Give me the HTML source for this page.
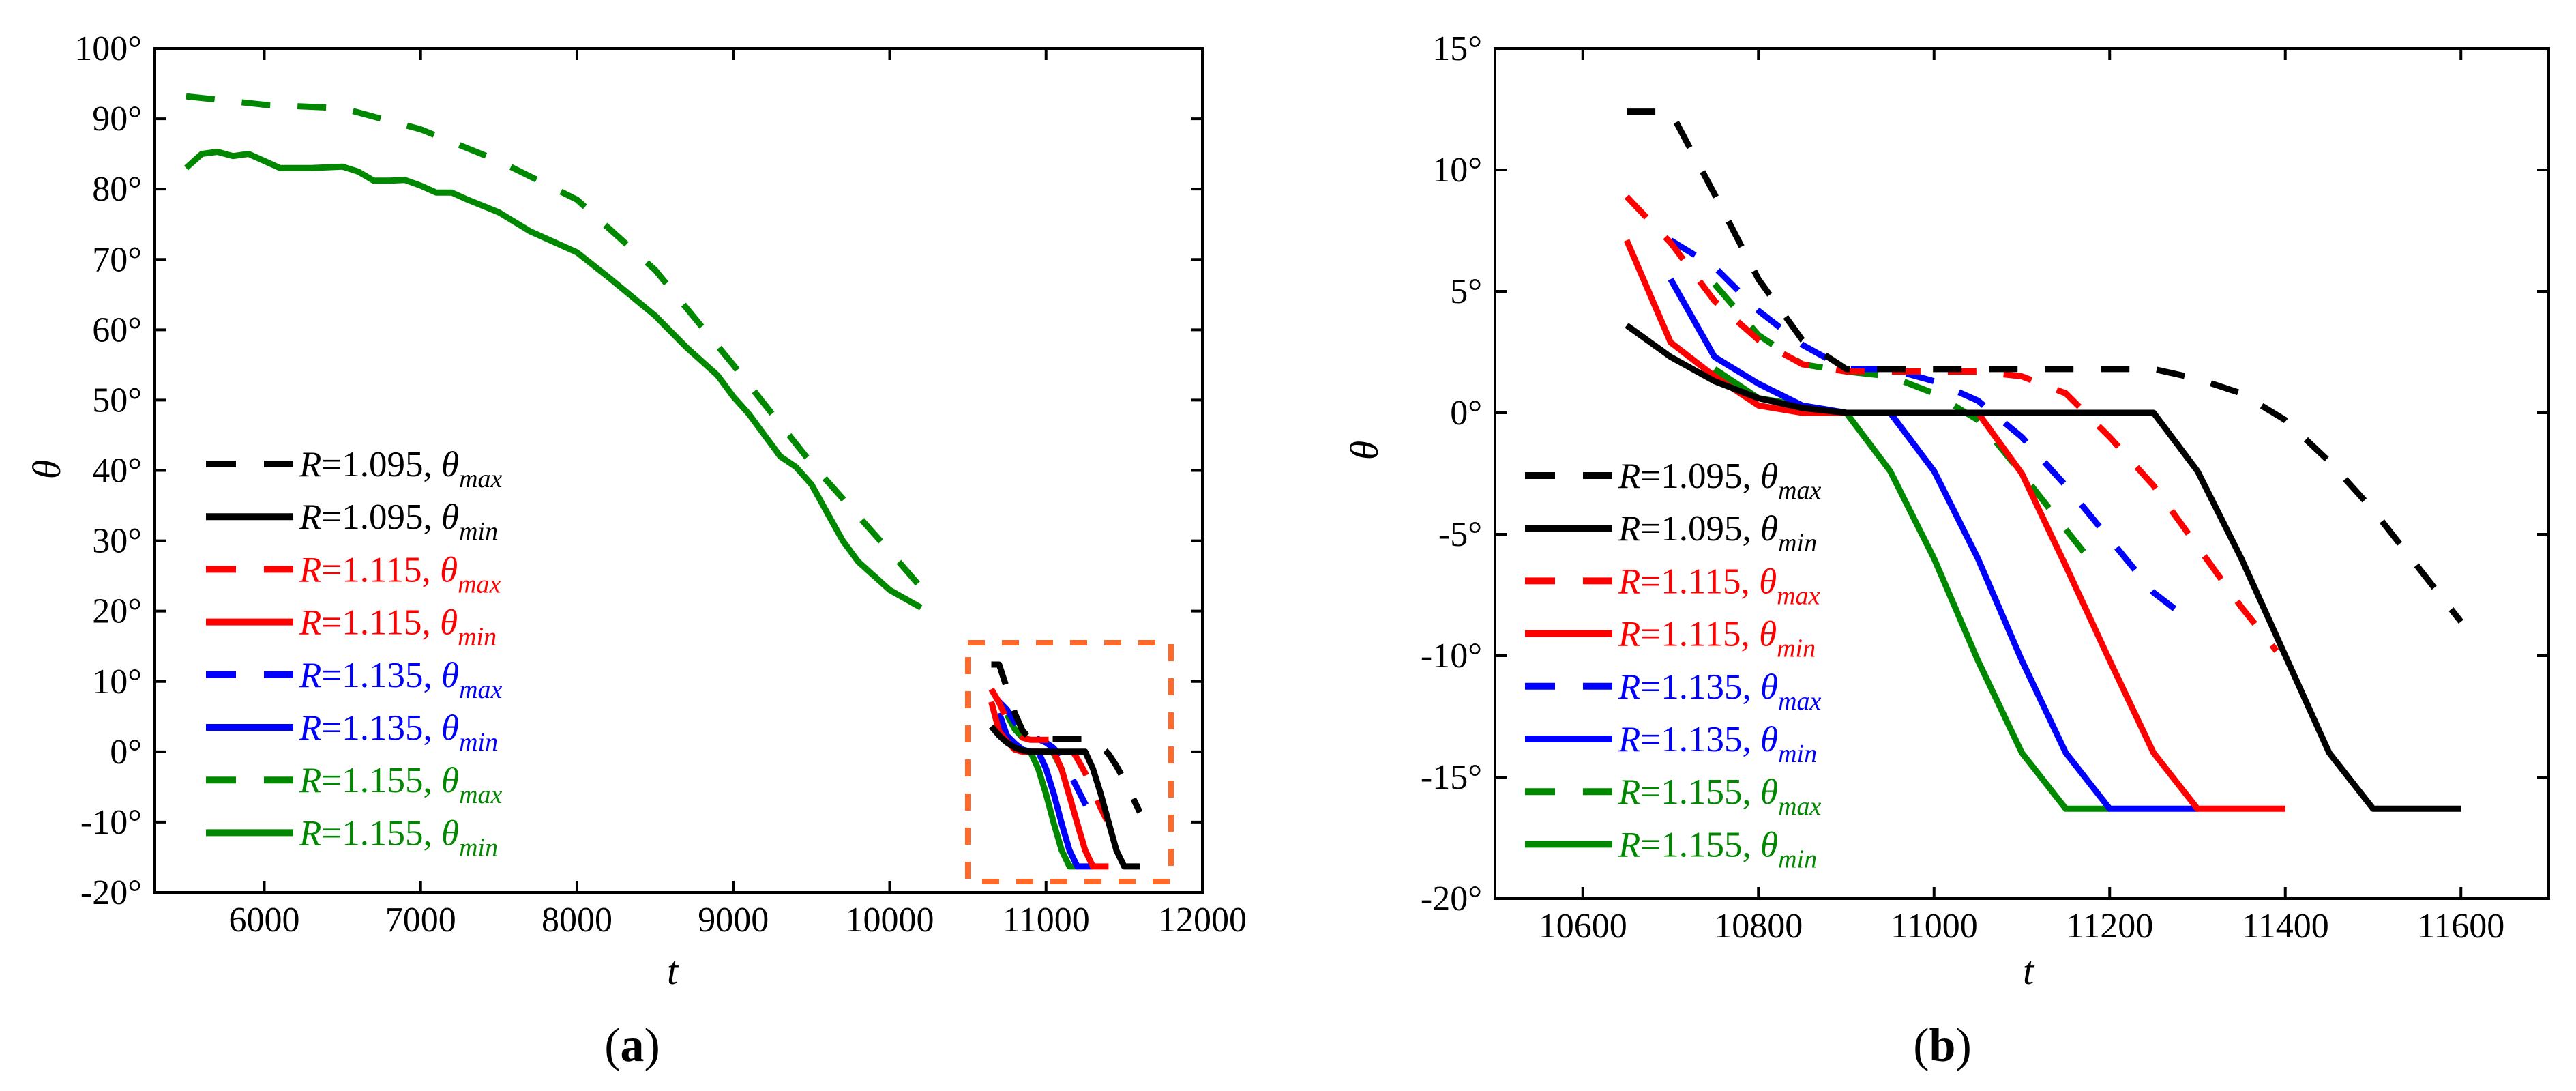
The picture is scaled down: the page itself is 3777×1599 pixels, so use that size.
<!DOCTYPE html>
<html><head><meta charset="utf-8"><style>
html,body{margin:0;padding:0;background:#fff;}
svg{display:block;font-family:"Liberation Serif",serif;}
</style></head><body>
<svg id="fig" width="3777" height="1599" viewBox="0 0 3777 1599" xmlns="http://www.w3.org/2000/svg"></svg>
<script>
const NS='http://www.w3.org/2000/svg';
const svg=document.getElementById('fig');
// ---- data ----
const seriesNames=['R=1.095 max','R=1.095 min','R=1.115 max','R=1.115 min','R=1.135 max','R=1.135 min','R=1.155 max','R=1.155 min'];
const seriesColors=['#000','#000','#f00','#f00','#00f','#00f','#080','#080'];
const seriesDashed=[true,false,true,false,true,false,true,false];
const blkMaxT=[10650,10700,10750,10800,10850,10900,10950,11000,11050,11100,11150,11200,11250,11300,11350,11400,11450,11500,11550,11600];
const blkMaxV=[12.4,12.4,9,5.5,3,1.8,1.8,1.8,1.8,1.8,1.8,1.8,1.8,1.4,0.8,-0.3,-2,-4,-6.3,-8.6];
const blkMinT=[10650,10700,10750,10800,10850,10900,11250,11300,11350,11400,11450,11500,11600];
const blkMinV=[3.6,2.3,1.3,0.6,0.2,0,0,-2.4,-6,-10,-14,-16.3,-16.3];
const redMaxT=[10650,10700,10750,10800,10850,10900,11050,11100,11150,11200,11250,11300,11350,11390];
const redMaxV=[8.9,7,4.6,3,2,1.7,1.7,1.5,0.8,-1,-3,-5.5,-8,-9.8];
const redMinT=[10650,10700,10750,10800,10850,11050,11100,11150,11200,11250,11300,11400];
const redMinV=[7.1,2.9,1.5,0.3,0,0,-2.5,-6.3,-10.2,-14,-16.3,-16.3];
const bluMaxT=[10700,10750,10800,10850,10900,10950,11000,11050,11100,11150,11200,11250,11293];
const bluMaxV=[7.1,6,4.2,2.8,1.8,1.8,1.3,0.5,-1,-3,-5.2,-7.4,-8.6];
const bluMinT=[10700,10750,10800,10850,10900,10950,11000,11050,11100,11150,11200,11300];
const bluMinV=[5.5,2.3,1.2,0.3,0,0,-2.4,-6,-10.2,-14,-16.3,-16.3];
const grnMaxT=[10750,10800,10850,10900,10950,11000,11050,11100,11150,11183];
const grnMaxV=[5.3,3.2,2,1.7,1.5,0.8,-0.3,-2.5,-4.8,-6.3];
const grnMinT=[10750,10800,10850,10900,10950,11000,11050,11100,11150,11200];
const grnMinV=[1.8,0.6,0.3,0,-2.4,-6,-10.2,-14,-16.3,-16.3];
const longMaxT=[5500,6000,6500,7000,7500,8000,8500,9000,9500,10000,10222];
const longMaxV=[93.2,92,91.5,88.5,84,78.5,68.5,55,41,28.5,22.8];
const longMinT=[5500,5600,5700,5800,5900,6000,6100,6300,6500,6600,6700,6800,6900,7000,7100,7200,7300,7500,7700,8000,8200,8500,8700,8800,8900,9000,9100,9200,9300,9400,9500,9600,9700,9800,10000,10200];
const longMinV=[83,85,85.3,84.7,85,84,83,83,83.2,82.5,81.2,81.2,81.3,80.5,79.5,79.5,78.5,76.7,74,71,67.5,62,57.5,55.5,53.5,50.5,48,45,42,40.5,38,34,30,27,23,20.5];
const leftXTicks=[6000,7000,8000,9000,10000,11000,12000];
const leftYTicks=[100,90,80,70,60,50,40,30,20,10,0,-10,-20];
const rightXTicks=[10600,10800,11000,11200,11400,11600];
const rightYTicks=[15,10,5,0,-5,-10,-15,-20];
const legendR=['1.095','1.095','1.115','1.115','1.135','1.135','1.155','1.155'];
const legendSub=['max','min','max','min','max','min','max','min'];
const seriesT=[blkMaxT,blkMinT,redMaxT,redMinT,bluMaxT,bluMinT,grnMaxT,grnMinT];
const seriesV=[blkMaxV,blkMinV,redMaxV,redMinV,bluMaxV,bluMinV,grnMaxV,grnMinV];

function el(tag,attrs,parent){const e=document.createElementNS(NS,tag);for(const k in attrs)e.setAttribute(k,attrs[k]);(parent||svg).appendChild(e);return e;}

function panel(cfg){
  const g=el('g',{});
  
  
  const sx=t=>cfg.x0+(t-cfg.tmin)/(cfg.tmax-cfg.tmin)*(cfg.x1-cfg.x0);
  const sy=v=>cfg.y1-(v-cfg.vmin)/(cfg.vmax-cfg.vmin)*(cfg.y1-cfg.y0);
  cfg.xt.forEach(t=>{const x=sx(t);
    const tk=el('path',{d:`M${x},${cfg.y1}v-17M${x},${cfg.y0}v17`,stroke:'#000','stroke-width':4},g);
    
    const tl=el('text',{x:x,y:cfg.y1+57,'font-size':52,'text-anchor':'middle'},g);tl.textContent=t;
    });
  cfg.yt.forEach(v=>{const y=sy(v);
    const tk=el('path',{d:`M${cfg.x0},${y}h17M${cfg.x1},${y}h-17`,stroke:'#000','stroke-width':4},g);
    
    const tl=el('text',{x:cfg.x0-19,y:y+17,'font-size':52,'text-anchor':'end'},g);tl.textContent=v+'°';
    });
  const clip=el('clipPath',{id:cfg.name+'-clip'},g);
  el('rect',{x:cfg.x0,y:cfg.y0,width:cfg.x1-cfg.x0,height:cfg.y1-cfg.y0},clip);
  const plot=el('g',{'clip-path':`url(#${cfg.name}-clip)`},g);
  const line=(T,V,color,dashed,name)=>{
    const d=T.map((t,i)=>(i?'L':'M')+sx(t).toFixed(1)+','+sy(V[i]).toFixed(1)).join('');
    const p=el('path',{d:d,fill:'none',stroke:color,'stroke-width':9,'stroke-linejoin':'round'},plot);
    if(dashed)p.setAttribute('stroke-dasharray','42 40');
    };
  if(cfg.long){
    line(longMaxT,longMaxV,'#080',true,'series-long-r1155-max');
    line(longMinT,longMinV,'#080',false,'series-long-r1155-min');
  }
  for(let i=7;i>=0;i--) line(seriesT[i],seriesV[i],seriesColors[i],seriesDashed[i],'series-'+seriesNames[i].replace(/[ =.]/g,'-'));
  const fr=el('rect',{x:cfg.x0,y:cfg.y0,width:cfg.x1-cfg.x0,height:cfg.y1-cfg.y0,fill:'none',stroke:'#000','stroke-width':4},g);
  
  for(let i=0;i<8;i++){
    const y=cfg.ly+i*77.2;
    const lg=el('g',{},g);
    
    const p=el('path',{d:`M${cfg.lx},${y}h128`,stroke:seriesColors[i],'stroke-width':10},lg);
    if(seriesDashed[i])p.setAttribute('stroke-dasharray','44 41');
    const tx=el('text',{x:cfg.lx+137,y:y+18,'font-size':53,fill:seriesColors[i]},lg);
    tx.innerHTML=`<tspan font-style="italic">R</tspan>=${legendR[i]}, <tspan font-style="italic">θ</tspan><tspan font-style="italic" font-size="38" dy="16">${legendSub[i]}</tspan>`;
  }
  const yl=el('text',{x:0,y:0,'font-size':58,'font-style':'italic','text-anchor':'middle',transform:`translate(${cfg.tyx},${cfg.tyy}) rotate(-90)`},g);
  yl.textContent='θ';
  const xl=el('text',{x:cfg.txx,y:1442,'font-size':58,'font-style':'italic','text-anchor':'middle'},g);
  xl.textContent='t';
  const cap=el('text',{x:cfg.capx,y:1555,'font-size':70,'text-anchor':'middle'},g);
  cap.innerHTML=`(<tspan font-weight="bold">${cfg.cap}</tspan>)`;
  
  return {sx,sy,g};
}
const A=panel({name:'panel-a',x0:227,x1:1763,y0:71,y1:1308,tmin:5300,tmax:12000,vmin:-20,vmax:100,xt:leftXTicks,yt:leftYTicks,long:true,lx:302,ly:680,cap:'a',tyx:88,tyy:688,txx:986,capx:927});
const box=el('rect',{x:1419,y:942,width:298,height:350,fill:'none',stroke:'#ff6a2a','stroke-width':8,'stroke-dasharray':'25 25'},A.g);


panel({name:'panel-b',x0:2192,x1:3737,y0:71,y1:1317,tmin:10500,tmax:11700,vmin:-20,vmax:15,xt:rightXTicks,yt:rightYTicks,long:false,lx:2236,ly:697,cap:'b',tyx:2020,tyy:660,txx:2974,capx:2848});
</script>
</body></html>
